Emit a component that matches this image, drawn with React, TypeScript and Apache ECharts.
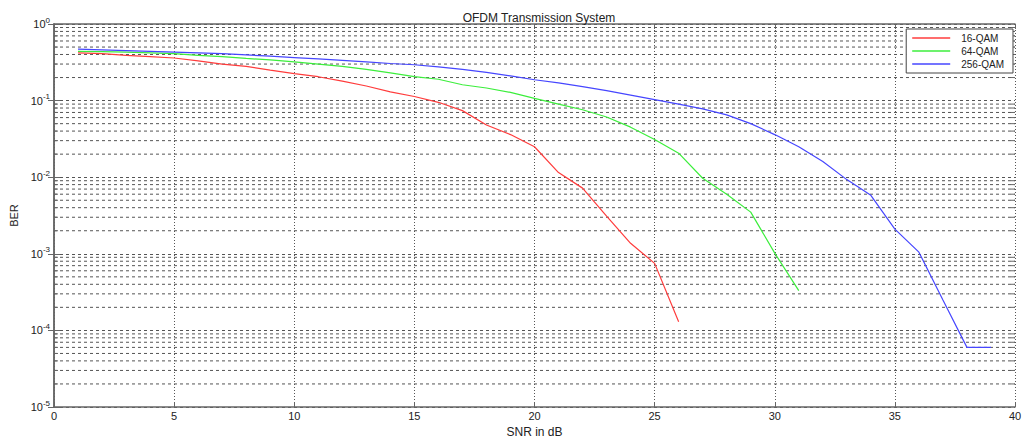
import React, { useEffect, useRef } from "react";
import * as echarts from "echarts";

const snr16 = [1,2,3,4,5,6,7,8,9,10,11,12,13,14,15,16,17,18,19,20,21,22,23,24,25,26];
const ber16 = [0.42,0.41,0.39,0.375,0.36,0.33,0.30,0.28,0.25,0.225,0.205,0.18,0.155,0.13,0.113,0.095,0.074,0.048,0.036,0.025,0.0115,0.0072,0.0031,0.00137,0.00075,0.00013];

const snr64 = [1,2,3,4,5,6,7,8,9,10,11,12,13,14,15,16,17,18,19,20,21,22,23,24,25,26,27,28,29,30,31];
const ber64 = [0.44,0.435,0.43,0.42,0.41,0.39,0.375,0.355,0.34,0.32,0.30,0.28,0.255,0.23,0.206,0.19,0.161,0.146,0.128,0.107,0.09,0.076,0.061,0.045,0.031,0.0206,0.0097,0.006,0.0035,0.00102,0.00033];

const snr256 = [1,2,3,4,5,6,7,8,9,10,11,12,13,14,15,16,17,18,19,20,21,22,23,24,25,26,27,28,29,30,31,32,33,34,35,36,37,38,39];
const ber256 = [0.47,0.46,0.45,0.44,0.43,0.42,0.41,0.395,0.38,0.365,0.35,0.335,0.32,0.305,0.294,0.275,0.255,0.233,0.21,0.187,0.17,0.152,0.135,0.118,0.103,0.09,0.078,0.065,0.05,0.036,0.025,0.016,0.0093,0.0058,0.0021,0.00105,0.00025,0.00006,0.00006];

const seriesNames = ["16-QAM", "64-QAM", "256-QAM"];
const seriesColors = ["#ff3c3c", "#3cee3c", "#4646ff"];
const decadeExponents = [-5, -4, -3, -2, -1];
const minorMultipliers = [2, 3, 4, 5, 6, 7, 8, 9];

const FONT = "Liberation Sans";

export default function App() {
  const ref = useRef<HTMLDivElement>(null);
  useEffect(() => {
    if (!ref.current) return;
    const chart = echarts.init(ref.current, null, { renderer: "svg" });
    const minorValues: number[] = [];
    decadeExponents.forEach((e) => {
      minorMultipliers.forEach((m) => minorValues.push(m * Math.pow(10, e)));
    });
    const pairs = (xs: number[], ys: number[]) => xs.map((x, i) => [x, ys[i]]);
    const datasets = [pairs(snr16, ber16), pairs(snr64, ber64), pairs(snr256, ber256)];
    const axisColor = "#666";
    const gridColor = "#555";
    chart.setOption({
      animation: false,
      backgroundColor: "#fff",
      title: {
        text: "OFDM Transmission System",
        left: 534,
        top: 7,
        textAlign: "center",
        textStyle: { fontFamily: FONT, fontSize: 12, fontWeight: "normal", color: "#222" },
      },
      legend: {
        right: 9,
        top: 29,
        orient: "vertical",
        data: seriesNames,
        itemWidth: 38,
        itemHeight: 1.5,
        itemGap: 1,
        icon: "rect",
        borderColor: "#444",
        borderWidth: 1,
        borderRadius: 0,
        backgroundColor: "#fff",
        padding: [3, 9, 3, 6],
        textStyle: { fontFamily: FONT, fontSize: 10, color: "#222", padding: [0, 0, 0, 6], lineHeight: 12 },
      },
      grid: { left: 54, right: 7, top: 24, bottom: 31, containLabel: false, outerBoundsMode: "none" },
      xAxis: [
        {
          type: "value",
          min: 0,
          max: 40,
          interval: 5,
          name: "SNR in dB",
          nameLocation: "middle",
          nameGap: 15,
          nameTextStyle: { fontFamily: FONT, fontSize: 12, color: "#222" },
          axisLine: { lineStyle: { color: axisColor, width: 1.5 } },
          axisTick: { inside: true, length: 5, lineStyle: { color: axisColor } },
          axisLabel: { fontFamily: FONT, fontSize: 11, color: "#222", margin: 3 },
          splitLine: { show: true, lineStyle: { color: gridColor, type: [1, 2], width: 1 } },
        },
        {
          type: "value",
          min: 0,
          max: 40,
          interval: 5,
          position: "top",
          axisLine: { show: true, lineStyle: { color: axisColor, width: 1.5 } },
          axisTick: { show: true, inside: true, length: 5, lineStyle: { color: axisColor } },
          axisLabel: { show: false },
          splitLine: { show: false },
        },
      ],
      yAxis: [
        {
          type: "log",
          logBase: 10,
          min: 1e-5,
          max: 1,
          name: "BER",
          nameLocation: "middle",
          nameGap: 33,
          nameTextStyle: { fontFamily: FONT, fontSize: 11, color: "#222" },
          axisLine: { show: true, lineStyle: { color: axisColor, width: 1.5 } },
          axisTick: { show: true, inside: true, length: 6, lineStyle: { color: axisColor } },
          axisLabel: {
            margin: 4,
            formatter: (v: number) => {
              const e = Math.round(Math.log10(v));
              return `{b|10}{s|${e}}`;
            },
            rich: {
              b: { fontFamily: FONT, fontSize: 11, color: "#222" },
              s: { fontFamily: FONT, fontSize: 8, color: "#222", padding: [0, 0, 8, 0] },
            },
          },
          splitLine: { show: true, lineStyle: { color: gridColor, type: [3, 3], width: 1 } },
        },
        {
          type: "log",
          logBase: 10,
          min: 1e-5,
          max: 1,
          position: "right",
          axisLine: { show: true, lineStyle: { color: axisColor, width: 1.5 } },
          axisTick: { show: true, inside: true, length: 6, lineStyle: { color: axisColor } },
          axisLabel: { show: false },
          splitLine: { show: false },
        },
      ],
      series: [
        {
          name: "minorGrid",
          type: "custom",
          xAxisIndex: 0,
          yAxisIndex: 0,
          silent: true,
          z: 1,
          data: minorValues.map((v) => [0, v]),
          encode: { x: 0, y: 1 },
          renderItem: (params: any, api: any) => {
            const v = api.value(1);
            const pt = api.coord([0, v]);
            const cs = params.coordSys;
            const y = pt[1];
            return {
              type: "group",
              children: [
                {
                  type: "line",
                  shape: { x1: cs.x, y1: y, x2: cs.x + cs.width, y2: y },
                  style: { stroke: gridColor, lineWidth: 1, lineDash: [3, 3] },
                },
                {
                  type: "line",
                  shape: { x1: cs.x, y1: y, x2: cs.x + 4, y2: y },
                  style: { stroke: axisColor, lineWidth: 1 },
                },
                {
                  type: "line",
                  shape: { x1: cs.x + cs.width - 4, y1: y, x2: cs.x + cs.width, y2: y },
                  style: { stroke: axisColor, lineWidth: 1 },
                },
              ],
            };
          },
        },
        ...datasets.map((d, i) => ({
          name: seriesNames[i],
          type: "line",
          data: d,
          xAxisIndex: 0,
          yAxisIndex: 0,
          symbol: "none",
          color: seriesColors[i],
          lineStyle: { color: seriesColors[i], width: 1.2 },
          z: 5,
        })),
      ],
    });
    return () => chart.dispose();
  }, []);
  return (
    <div
      ref={ref}
      style={{ position: "fixed", left: 0, top: 0, width: 1022, height: 438 }}
    />
  );
}
